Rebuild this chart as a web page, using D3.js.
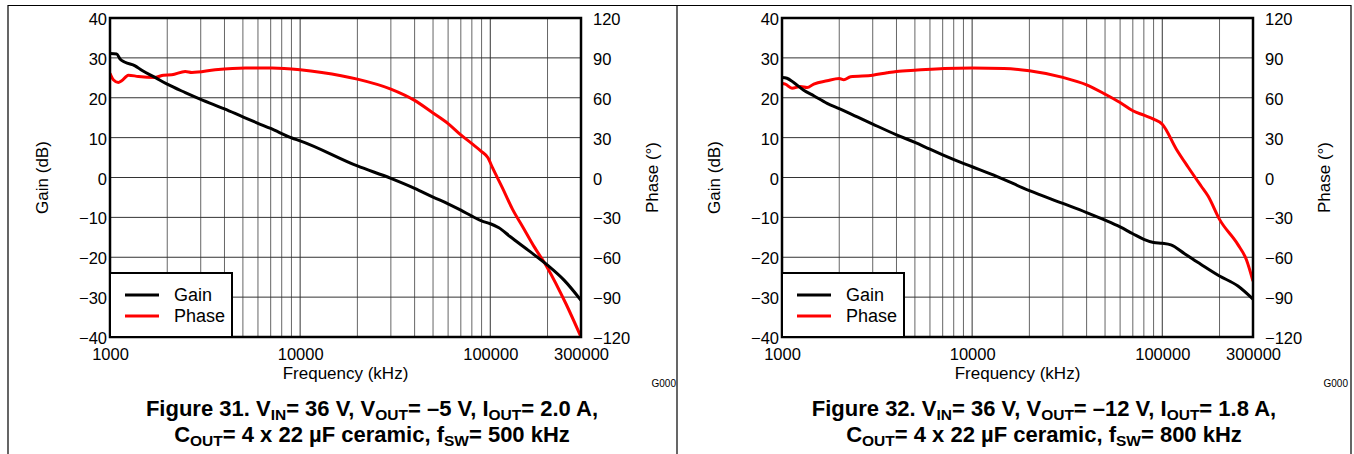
<!DOCTYPE html>
<html><head><meta charset="utf-8">
<script src="https://cdn.jsdelivr.net/npm/d3@7"></script>
<style>
body{margin:0;background:#fff}
svg{display:block}
text{font-family:"Liberation Sans",Arial,sans-serif;fill:#000}
</style>
</head><body>
<svg id="c" width="1354" height="454"></svg>
<script>
// ---- data ----
const freqTicks = [1000, 10000, 100000, 300000];
const gainTicks = [-40, -30, -20, -10, 0, 10, 20, 30, 40];
const phaseTicks = [-120, -90, -60, -30, 0, 30, 60, 90, 120];
const seriesNames = ["Gain", "Phase"];

// Figure 31
const gain31Freq = [1000,1084,1129,1200,1355,1469,1727,2000,2488,3000,4000,5000,6000,7000,9050,10000,20000,30000,40000,50000,60000,70000,80000,90000,100000,111000,127000,162000,200000,245000,300000];
const gain31Db   = [31.1,31.0,29.7,28.9,28.0,26.9,25.1,23.4,21.3,19.6,17.2,15.2,13.6,12.3,9.9,9.2,2.9,-0.2,-2.7,-4.9,-6.6,-8.2,-9.7,-10.9,-11.6,-12.6,-14.8,-18.6,-22.0,-25.8,-30.8];
const phase31Freq = [1000,1041,1106,1152,1249,1411,1727,1911,2114,2488,2695,3576,5158,7117,10000,13000,20000,30000,40000,50000,60000,70000,80000,90000,97000,103000,116000,131000,148000,170000,200000,250000,300000];
const phase31Deg  = [78.3,73.5,71.5,72.8,77.0,76.0,75.3,77.0,77.3,79.8,79.0,81.0,82.3,82.3,81.0,79.0,74.0,66.5,58.0,48.5,40.5,32.0,25.5,19.5,15.0,7.0,-8.0,-24.0,-37.0,-52.0,-68.0,-95.0,-120.0];

// Figure 32
const gain32Freq = [1000,1062,1152,1301,1469,1727,2000,2488,3000,4000,5000,6000,7000,9050,10000,13000,20000,30000,40000,50000,60000,70000,80000,90000,100000,111000,131000,160000,200000,250000,300000];
const gain32Db   = [25.1,24.9,23.8,21.9,20.5,18.6,17.3,15.2,13.4,10.7,8.8,7.1,5.7,3.5,2.7,0.6,-3.3,-6.5,-8.8,-10.7,-12.4,-14.1,-15.5,-16.3,-16.5,-16.9,-19.1,-21.8,-24.7,-27.2,-30.5];
const phase32Freq = [1000,1041,1129,1249,1355,1469,1727,2000,2114,2293,3000,3576,4000,5158,7117,10000,14700,20000,30000,40000,50000,60000,70000,80000,90000,100000,118600,136600,160000,174100,200000,250000,277300,300000];
const phase32Deg  = [70.8,70.3,67.2,68.5,67.7,70.3,72.8,74.5,73.5,75.8,77.0,78.8,79.8,80.8,82.0,82.3,82.0,80.3,75.3,69.7,62.7,56.4,50.2,46.9,43.9,40.1,21.3,7.9,-6.4,-13.9,-31.5,-50.5,-62.0,-78.0];

const caption31 = ["Figure 31. V_{IN}= 36 V, V_{OUT}= –5 V, I_{OUT}= 2.0 A,", "C_{OUT}= 4 x 22 µF ceramic, f_{SW}= 500 kHz"];
const caption32 = ["Figure 32. V_{IN}= 36 V, V_{OUT}= –12 V, I_{OUT}= 1.8 A,", "C_{OUT}= 4 x 22 µF ceramic, f_{SW}= 800 kHz"];
const axisTitles = {x: "Frequency (kHz)", yLeft: "Gain (dB)", yRight: "Phase (°)"};
const tagText = "G000";
const colors = {gain: "#000000", phase: "#ff0000"};

// ---- drawing ----
const svg = d3.select("#c");
const fmtNum = d => d < 0 ? "\u2212" + Math.abs(d) : String(d);

// outer frames
const frame = svg.append("g").attr("stroke", "#000").attr("stroke-width", 1.2).attr("fill", "none");
frame.append("path").attr("d", "M8,454 V5.5 H1351 V454");
frame.append("path").attr("d", "M677,5.5 V454");

function addRich(textSel, str) {
  const parts = str.split(/(_\{[^}]*\})/).filter(s => s.length);
  let sub = false;
  parts.forEach(p => {
    if (p.startsWith("_{")) {
      textSel.append("tspan").attr("font-size", "15.5px").attr("dy", 4).text(p.slice(2, -1));
      sub = true;
    } else {
      const t = textSel.append("tspan").text(p);
      if (sub) { t.attr("dy", -4); sub = false; }
    }
  });
}

function panel(x0, gF, gV, pF, pV, caption) {
  const W = 471, H = 319, y0 = 18;
  const g = svg.append("g").attr("transform", `translate(${x0},${y0})`);
  const x = d3.scaleLog().domain([1000, 300000]).range([0, W]);
  const yG = d3.scaleLinear().domain([-40, 40]).range([H, 0]);
  const yP = d3.scaleLinear().domain([-120, 120]).range([H, 0]);

  // minor vertical grid
  const minor = [];
  [1000, 10000, 100000].forEach(dec => { for (let k = 2; k <= 9; k++) { const f = k * dec; if (f < 300000) minor.push(f); } });
  g.append("g").selectAll("line").data(minor).join("line")
    .attr("x1", d => x(d)).attr("x2", d => x(d)).attr("y1", 0).attr("y2", H)
    .attr("stroke", "#666").attr("stroke-width", 1);
  g.append("g").selectAll("line").data([10000, 100000]).join("line")
    .attr("x1", d => x(d)).attr("x2", d => x(d)).attr("y1", 0).attr("y2", H)
    .attr("stroke", "#333").attr("stroke-width", 1);
  g.append("g").selectAll("line").data(gainTicks.slice(1, -1)).join("line")
    .attr("x1", 0).attr("x2", W).attr("y1", d => yG(d)).attr("y2", d => yG(d))
    .attr("stroke", "#333").attr("stroke-width", 1);

  // curves
  const clipId = "clip" + x0;
  g.append("clipPath").attr("id", clipId).append("rect").attr("x", 0).attr("y", -2).attr("width", W).attr("height", H + 4);
  const lineG = d3.line().x(d => x(d[0])).y(d => yG(d[1])).curve(d3.curveMonotoneX);
  const lineP = d3.line().x(d => x(d[0])).y(d => yP(d[1])).curve(d3.curveMonotoneX);
  const cg = g.append("g").attr("clip-path", `url(#${clipId})`);
  cg.append("path").attr("d", lineP(d3.zip(pF, pV))).attr("fill", "none")
    .attr("stroke", colors.phase).attr("stroke-width", 3).attr("stroke-linejoin", "round");
  cg.append("path").attr("d", lineG(d3.zip(gF, gV))).attr("fill", "none")
    .attr("stroke", colors.gain).attr("stroke-width", 3).attr("stroke-linejoin", "round");

  // plot frame
  g.append("rect").attr("x", 0).attr("y", 0).attr("width", W).attr("height", H)
    .attr("fill", "none").attr("stroke", "#000").attr("stroke-width", 2.5);

  // axes
  const fs = "16.5px";
  const axL = g.append("g").call(d3.axisLeft(yG).tickValues(gainTicks).tickFormat(fmtNum).tickSize(0).tickPadding(3));
  const axR = g.append("g").attr("transform", `translate(${W},0)`)
    .call(d3.axisRight(yP).tickValues(phaseTicks).tickFormat(fmtNum).tickSize(0).tickPadding(12));
  const axB = g.append("g").attr("transform", `translate(0,${H})`)
    .call(d3.axisBottom(x).tickValues(freqTicks).tickFormat(d3.format("d")).tickSize(0).tickPadding(11));
  [axL, axR, axB].forEach(a => {
    a.select(".domain").remove();
    a.selectAll("text").attr("font-size", fs).attr("font-family", '"Liberation Sans",Arial,sans-serif').attr("fill", "#000");
  });
  axL.selectAll("text").attr("dy", "0.4em");
  axR.selectAll("text").attr("dy", "0.4em");

  // axis titles
  g.append("text").attr("transform", `translate(${-62},${H / 2}) rotate(-90)`)
    .attr("text-anchor", "middle").attr("font-size", "17px").text(axisTitles.yLeft);
  g.append("text").attr("transform", `translate(${W + 77},${H / 2}) rotate(-90)`)
    .attr("text-anchor", "middle").attr("font-size", "17px").text(axisTitles.yRight);
  g.append("text").attr("x", W / 2).attr("y", 361).attr("text-anchor", "middle")
    .attr("font-size", "17px").text(axisTitles.x);
  g.append("text").attr("x", W + 95).attr("y", 369).attr("text-anchor", "end")
    .attr("font-size", "10px").attr("fill", "#333").text(tagText);

  // legend
  const lg = g.append("g").attr("transform", `translate(0,${255})`);
  lg.append("rect").attr("x", 0).attr("y", 0).attr("width", 122).attr("height", H - 255)
    .attr("fill", "#fff").attr("stroke", "#000").attr("stroke-width", 2);
  const items = [[seriesNames[0], colors.gain], [seriesNames[1], colors.phase]];
  items.forEach((it, i) => {
    const yy = 22 + i * 21;
    lg.append("line").attr("x1", 15).attr("x2", 49).attr("y1", yy).attr("y2", yy)
      .attr("stroke", it[1]).attr("stroke-width", 3);
    lg.append("text").attr("x", 64).attr("y", yy + 6).attr("font-size", "18px").text(it[0]);
  });

  // caption
  caption.forEach((c, i) => {
    const t = g.append("text").attr("x", 262).attr("y", 398 + i * 26).attr("text-anchor", "middle")
      .attr("font-size", "22px").attr("font-weight", "bold");
    addRich(t, c);
  });
}

panel(110, gain31Freq, gain31Db, phase31Freq, phase31Deg, caption31);
panel(782, gain32Freq, gain32Db, phase32Freq, phase32Deg, caption32);
</script>
</body></html>
